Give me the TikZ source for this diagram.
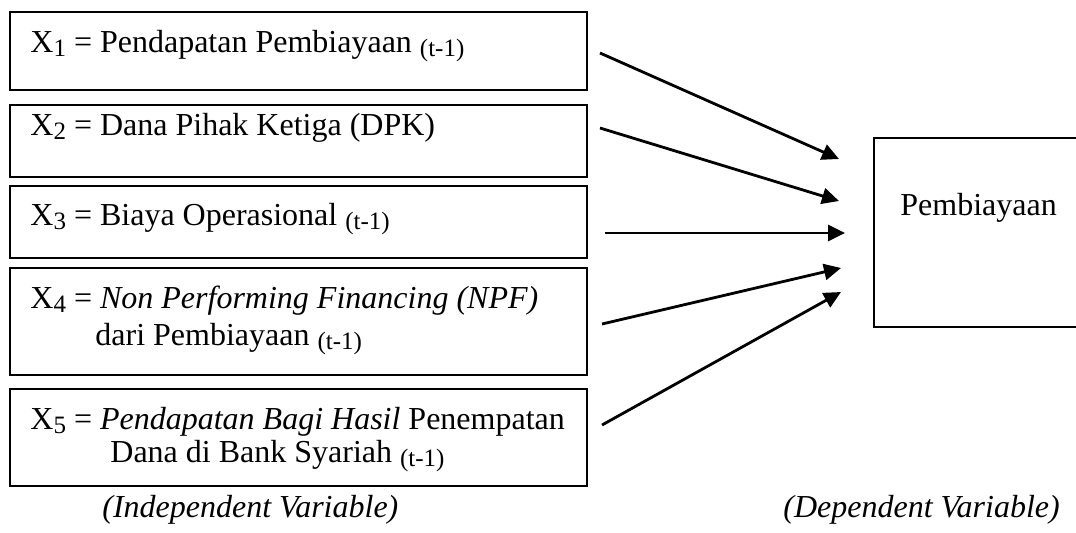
\documentclass[tikz,border=0pt]{standalone}
\usepackage{fontspec}
\setmainfont{Liberation Serif}
\usetikzlibrary{arrows.meta}
\newcommand{\sbs}[1]{\raisebox{-2.2pt}{\fontsize{12.5}{14}\selectfont #1}}
\begin{document}
\begin{tikzpicture}[x=0.5pt,y=-0.5pt,
  box/.style={draw, line width=1pt, inner sep=0pt, anchor=north west},
  txt/.style={anchor=base west, inner sep=0pt, font=\fontsize{16}{19}\selectfont},
  arr/.style={-{Triangle[length=8.5pt,width=8pt]}, line width=1.4pt}]
\useasboundingbox (0,0) rectangle (1076,532);
\clip (0,0) rectangle (1076,532);
% independent variable boxes
\node[box, minimum width=288.5pt, minimum height=39pt] (b1) at (9,11) {};
\node[box, minimum width=288.5pt, minimum height=36pt] (b2) at (9,104) {};
\node[box, minimum width=288.5pt, minimum height=36pt] (b3) at (9,185) {};
\node[box, minimum width=288.5pt, minimum height=53.5pt] (b4) at (9,267) {};
\node[box, minimum width=288.5pt, minimum height=48.25pt] (b5) at (9,388) {};
% dependent variable box
\node[box, minimum width=110pt, minimum height=94.5pt] (dep) at (873,137) {};
% texts
\node[txt] (t1) at (30,52) {X\sbs{1} = Pendapatan Pembiayaan \sbs{(t-1)}};
\node[txt] (t2) at (30,135) {X\sbs{2} = Dana Pihak Ketiga (DPK)};
\node[txt] (t3) at (30,225) {X\sbs{3} = Biaya Operasional \sbs{(t-1)}};
\node[txt] (t4a) at (30,308) {X\sbs{4} = \textit{Non Performing Financing (NPF)}};
\node[txt] (t4b) at (95,345) {dari Pembiayaan \sbs{(t-1)}};
\node[txt] (t5a) at (30,429) {X\sbs{5} = \textit{Pendapatan Bagi Hasil} Penempatan};
\node[txt] (t5b) at (110,462) {Dana di Bank Syariah \sbs{(t-1)}};
\node[txt] (td) at (900,215) {Pembiayaan};
\node[txt] (li) at (102,517) {\textit{(Independent Variable)}};
\node[txt] (ld) at (783,517) {\textit{(Dependent Variable)}};
% arrow ends
\coordinate (s1) at (600,53);  \coordinate (e1) at (839,159);
\coordinate (s2) at (600,128); \coordinate (e2) at (839,201);
\coordinate (s3) at (605,233); \coordinate (e3) at (845,233);
\coordinate (s4) at (602,324); \coordinate (e4) at (841,268);
\coordinate (s5) at (602,425); \coordinate (e5) at (841,292);
\draw[arr] (s1) -- (e1);
\draw[arr] (s2) -- (e2);
\draw[arr] (s3) -- (e3);
\draw[arr] (s4) -- (e4);
\draw[arr] (s5) -- (e5);
\end{tikzpicture}
\end{document}
